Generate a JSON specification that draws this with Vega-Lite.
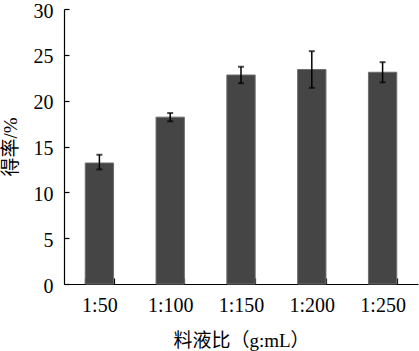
{
  "$schema": "https://vega.github.io/schema/vega-lite/v6.json",
  "width": 354,
  "height": 275,
  "autosize": {"type": "none"},
  "padding": {"left": 64, "top": 9, "right": 1, "bottom": 67},
  "background": "white",
  "config": {
    "view": {"stroke": null},
    "axis": {
      "labelFont": "Liberation Serif",
      "titleFont": "Liberation Serif, Noto Sans CJK SC",
      "labelFontSize": 20,
      "titleFontSize": 19,
      "titleFontWeight": "normal",
      "labelColor": "black",
      "titleColor": "black",
      "domainColor": "black",
      "tickColor": "black",
      "domainWidth": 1.2,
      "tickWidth": 1.2,
      "grid": false
    }
  },
  "data": {
    "values": [
      {"ratio": "1:50", "yield": 13.2, "lo": 12.5, "hi": 14.1},
      {"ratio": "1:100", "yield": 18.2, "lo": 17.75, "hi": 18.65},
      {"ratio": "1:150", "yield": 22.8, "lo": 21.9, "hi": 23.7},
      {"ratio": "1:200", "yield": 23.4, "lo": 21.4, "hi": 25.4},
      {"ratio": "1:250", "yield": 23.1, "lo": 22.0, "hi": 24.2}
    ]
  },
  "encoding": {
    "x": {
      "field": "ratio",
      "type": "nominal",
      "sort": null,
      "scale": {"paddingInner": 0.6, "paddingOuter": 0.3},
      "axis": {
        "title": "料液比（g:mL）",
        "labelAngle": 0,
        "tickBand": "extent",
        "tickSize": -6,
        "labelPadding": 17,
        "titlePadding": 16
      }
    }
  },
  "layer": [
    {
      "mark": {"type": "bar", "color": "#454545", "stroke": "#6e6e6e", "strokeWidth": 1},
      "encoding": {
        "y": {
          "field": "yield",
          "type": "quantitative",
          "scale": {"domain": [0, 30]},
          "axis": {
            "title": "得率/%",
            "values": [0, 5, 10, 15, 20, 25, 30],
            "tickSize": -5,
            "labelPadding": 16,
            "labelOffset": 2,
            "titlePadding": 13
          }
        }
      }
    },
    {
      "mark": {"type": "rule", "color": "black", "strokeWidth": 1.5},
      "encoding": {
        "y": {"field": "lo", "type": "quantitative"},
        "y2": {"field": "hi"}
      }
    },
    {
      "mark": {"type": "tick", "color": "black", "size": 6, "thickness": 2, "orient": "horizontal"},
      "encoding": {"y": {"field": "lo", "type": "quantitative"}}
    },
    {
      "mark": {"type": "tick", "color": "black", "size": 6, "thickness": 2, "orient": "horizontal"},
      "encoding": {"y": {"field": "hi", "type": "quantitative"}}
    }
  ]
}
